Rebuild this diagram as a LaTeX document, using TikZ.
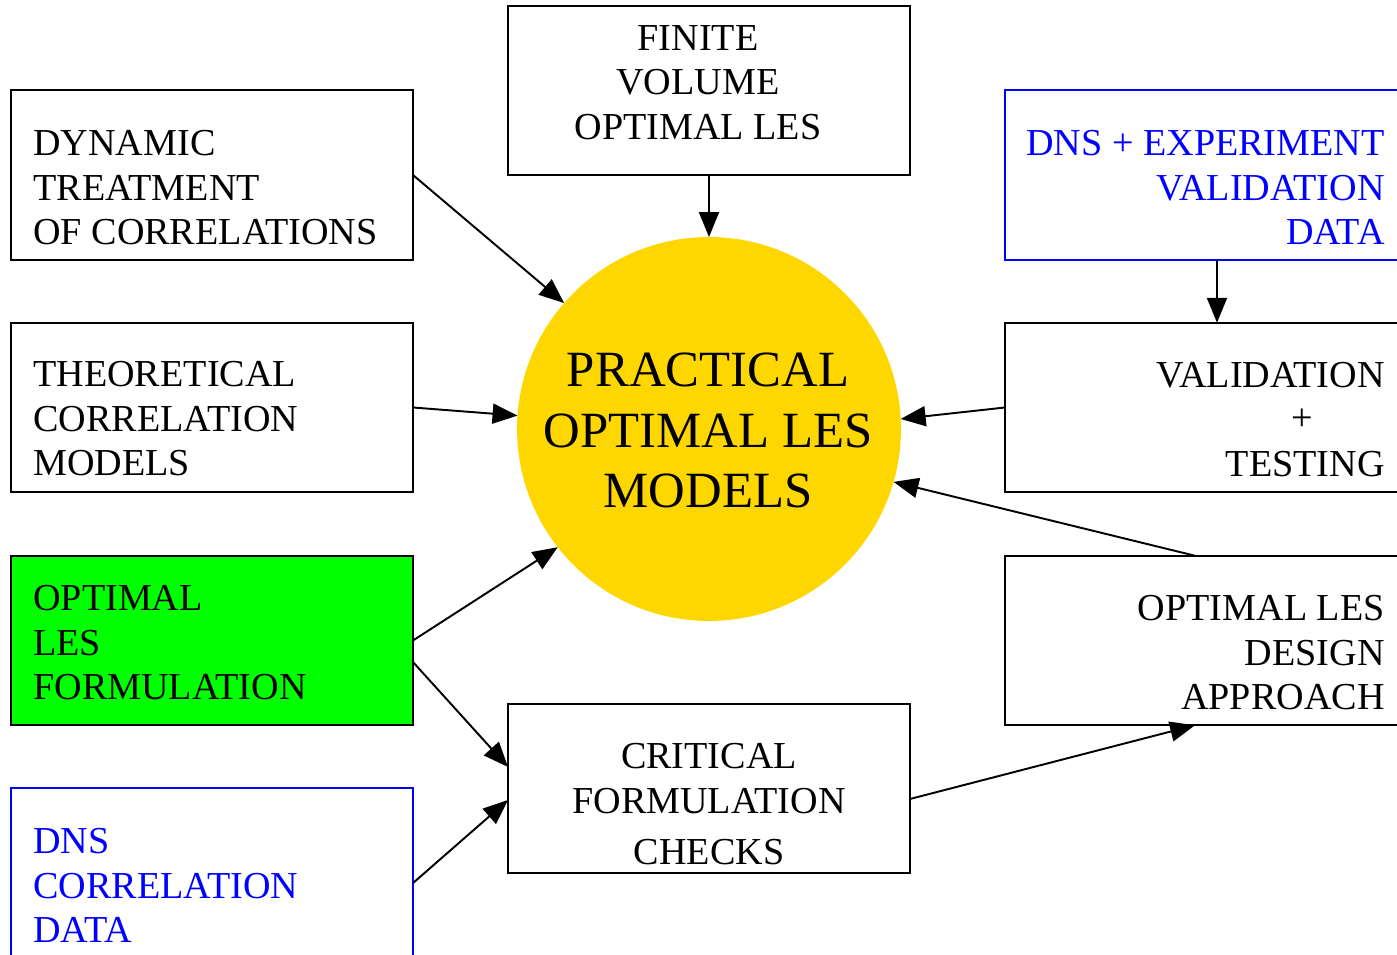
\documentclass[tikz,border=0pt]{standalone}
\usepackage{fontspec}
\setmainfont{Liberation Serif}
\usetikzlibrary{arrows.meta,calc}
\definecolor{gold}{HTML}{FFD700}
\definecolor{pgreen}{HTML}{00FF00}
\definecolor{pblue}{HTML}{0000FF}
\begin{document}
\begin{tikzpicture}[x=0.02cm,y=-0.02cm,
  boxnode/.style={draw=black, line width=1.1pt, rectangle, inner sep=0pt, outer sep=0pt},
  lbox/.style={boxnode, minimum width=8.04cm, minimum height=3.39cm},
  rbox/.style={boxnode, minimum width=8.48cm, minimum height=3.39cm},
  txt/.style={inner sep=0pt, font=\fontsize{21.7}{25.3}\selectfont},
  ctxt/.style={inner sep=0pt, font=\fontsize{28.9}{34.4}\selectfont, align=center},
  conn/.style={line width=1.1pt, -{Triangle[length=14.2pt,width=11.4pt]}}
]
\useasboundingbox (0,0) rectangle (1397,955);
\clip (0,0) rectangle (1397,955);

% central circle
\node[circle, fill=gold, minimum size=7.68cm, inner sep=0pt, outer sep=0pt] (circ) at (709,429) {};
\node[ctxt, anchor=north] (circtxt) at (708,353) {PRACTICAL\\OPTIMAL LES\\MODELS};

% left boxes
\node[lbox] (dyn) at (212,175) {};
\node[txt, anchor=north west, align=left] (dyntxt) at (33,130) {DYNAMIC\\TREATMENT\\OF CORRELATIONS};

\node[lbox] (theo) at (212,407.5) {};
\node[txt, anchor=north west, align=left] (theotxt) at (33,361) {THEORETICAL\\CORRELATION\\MODELS};

\node[lbox, fill=pgreen] (optf) at (212,640.5) {};
\node[txt, anchor=north west, align=left] (optftxt) at (33,585) {OPTIMAL\\LES\\FORMULATION};

\node[lbox, draw=pblue, minimum height=3.5cm] (dnsc) at (212,875.5) {};
\node[txt, anchor=north west, align=left, text=pblue] (dnsctxt) at (33,828) {DNS\\CORRELATION\\DATA};

% top box
\node[lbox] (fin) at (709,90.5) {};
\node[txt, anchor=north, align=center] (fintxt) at (698,25) {FINITE\\VOLUME\\OPTIMAL LES};

% bottom centre box
\node[lbox] (crit) at (709,788.5) {};
\node[txt, anchor=north, align=center] (crittxt) at (709,743) {CRITICAL\\FORMULATION\\[4pt]CHECKS};

% right boxes
\node[rbox, draw=pblue] (dnse) at (1217,175) {};
\node[txt, anchor=north east, align=right, text=pblue] (dnsetxt) at (1385,130) {DNS + EXPERIMENT\\VALIDATION\\DATA};

\node[rbox] (val) at (1217,407.5) {};
\node[txt, anchor=north east, align=right] (valtxt) at (1385,362) {VALIDATION\\[25.3pt]TESTING};
\node[txt] (plus) at (1302,420) {+};

\node[rbox] (des) at (1217,640.5) {};
\node[txt, anchor=north east, align=right] (destxt) at (1385,595) {OPTIMAL LES\\DESIGN\\APPROACH};

% connectors
\draw[conn] (dyn.east) -- (circ.139);
\draw[conn] (fin.south) -- (circ.north);
\draw[conn] (theo.east) -- (circ.176.7);
\draw[conn] (val.west) -- (circ.3.3);
\draw[conn] ($(des.north west)+(190,0)$) -- (circ.-16.6);
\draw[conn] (optf.east) -- (circ.218);
\draw[conn] ($(optf.east)+(0,21.5)$) -- ($(crit.west)+(0,-21.5)$);
\draw[conn] ($(dnsc.north west)+(402,95)$) -- ($(crit.west)+(0,11.5)$);
\draw[conn] ($(crit.east)+(0,10.5)$) -- ($(des.south west)+(190,0)$);
\draw[conn] (dnse.south) -- (val.north);
\end{tikzpicture}
\end{document}
